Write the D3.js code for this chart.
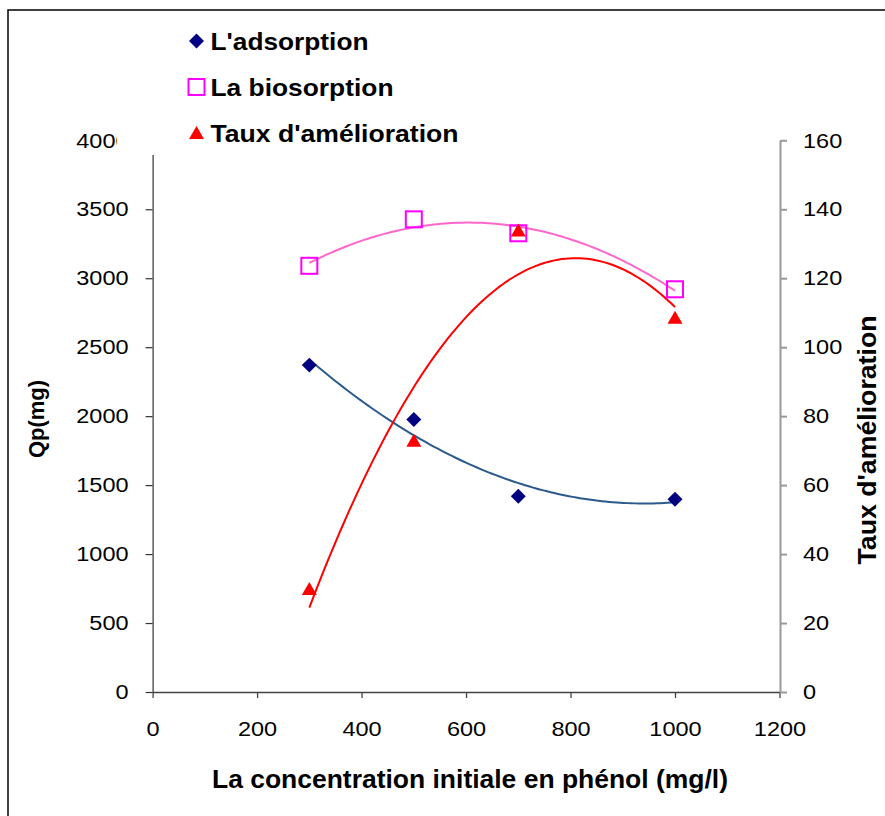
<!DOCTYPE html>
<html><head><meta charset="utf-8">
<script src="https://cdn.jsdelivr.net/npm/d3@7"></script>
<style>body{margin:0;background:#fff}</style>
</head><body><svg id="c" width="885" height="816"></svg>
<script>
// ---- data ----
const concentrations = [300, 500, 700, 1000];
const adsorption = [2370, 1975, 1420, 1397];
const biosorption = [3090, 3427, 3326, 2920];
const tauxAmelioration = [30, 73, 134, 108.7];
const xTicks = [0, 200, 400, 600, 800, 1000, 1200];
const yLeftTicks = [0, 500, 1000, 1500, 2000, 2500, 3000, 3500, 4000];
const yRightTicks = [0, 20, 40, 60, 80, 100, 120, 140, 160];
const legendLabels = ["L'adsorption", "La biosorption", "Taux d'amélioration"];
const xTitle = "La concentration initiale en phénol (mg/l)";
const yLeftTitle = "Qp(mg)";
const yRightTitle = "Taux d'amélioration";

// ---- setup ----
const FONT = "Arial, 'Liberation Sans', sans-serif";
const TICK_SX = 1.12;
const svg = d3.select("#c");
const x = d3.scaleLinear().domain([0, 1200]).range([152.6, 779.5]);
const yL = d3.scaleLinear().domain([0, 4000]).range([692, 140.3]);
const yR = d3.scaleLinear().domain([0, 160]).range([692, 140.3]);

// outer frame
svg.append("rect").attr("x", 8).attr("y", 10).attr("width", 900).attr("height", 840)
  .attr("fill", "none").attr("stroke", "#000").attr("stroke-width", 1.5);

function styleTicks(g, color, width) {
  g.selectAll("path.domain").attr("stroke", color).attr("stroke-width", width);
  g.selectAll(".tick line").attr("stroke", color).attr("stroke-width", width);
  g.selectAll(".tick text").attr("font-family", FONT).attr("font-size", 21).attr("fill", "#000");
}

// bottom axis
const gx = svg.append("g").attr("transform", `translate(0,${yL(0)})`)
  .call(d3.axisBottom(x).tickValues(xTicks).tickFormat(d3.format("d")).tickSize(6).tickSizeOuter(0).tickPadding(23));
styleTicks(gx, "#444", 1.3);
gx.selectAll(".tick text").attr("transform", `scale(${TICK_SX},1)`);

// left axis
const gl = svg.append("g").attr("transform", `translate(${x(0)},0)`)
  .call(d3.axisLeft(yL).tickValues(yLeftTicks).tickFormat(d3.format("d")).tickSize(7).tickSizeOuter(0).tickPadding(17));
styleTicks(gl, "#333", 1.2);
gl.selectAll(".tick text").each(function () {
  const t = d3.select(this); const ox = +t.attr("x");
  t.attr("x", ox / TICK_SX).attr("transform", `scale(${TICK_SX},1)`);
});

// right axis
const gr = svg.append("g").attr("transform", `translate(${x(1200) + 0.5},0)`)
  .call(d3.axisRight(yR).tickValues(yRightTicks).tickFormat(d3.format("d")).tickSize(7).tickSizeOuter(0).tickPadding(16));
styleTicks(gr, "#999", 2);
gr.selectAll(".tick text").each(function () {
  const t = d3.select(this); const ox = +t.attr("x");
  t.attr("x", ox / TICK_SX).attr("transform", `scale(${TICK_SX},1)`);
});

// ---- quadratic least-squares trendlines ----
function polyfit2(xs, ys) {
  const n = xs.length;
  let S = [0, 0, 0, 0, 0], T = [0, 0, 0];
  for (let i = 0; i < n; i++) {
    for (let k = 0; k < 5; k++) S[k] += Math.pow(xs[i], k);
    for (let k = 0; k < 3; k++) T[k] += ys[i] * Math.pow(xs[i], k);
  }
  const A = [[S[0], S[1], S[2], T[0]], [S[1], S[2], S[3], T[1]], [S[2], S[3], S[4], T[2]]];
  for (let i = 0; i < 3; i++) {
    let p = i; for (let r = i + 1; r < 3; r++) if (Math.abs(A[r][i]) > Math.abs(A[p][i])) p = r;
    [A[i], A[p]] = [A[p], A[i]];
    for (let r = 0; r < 3; r++) if (r !== i) {
      const f = A[r][i] / A[i][i];
      for (let c = i; c < 4; c++) A[r][c] -= f * A[i][c];
    }
  }
  const c = [A[0][3] / A[0][0], A[1][3] / A[1][1], A[2][3] / A[2][2]];
  return v => c[0] + c[1] * v + c[2] * v * v;
}
const xmin = d3.min(concentrations), xmax = d3.max(concentrations);
const samples = d3.range(0, 101).map(i => xmin + (xmax - xmin) * i / 100);
function trend(ys, yScale, color) {
  const f = polyfit2(concentrations, ys);
  svg.append("path").datum(samples)
    .attr("d", d3.line().x(d => x(d)).y(d => yScale(f(d))))
    .attr("fill", "none").attr("stroke", color).attr("stroke-width", 2);
}
trend(adsorption, yL, "#2B5A8C");
trend(biosorption, yL, "#FF66CC");
trend(tauxAmelioration, yR, "#FF0000");

// ---- markers ----
const diamond = d3.symbol(d3.symbolSquare, 112);
const triSize = 97;
const tri = d3.symbol(d3.symbolTriangle, triSize);
const triH = Math.sqrt(triSize * 4 / Math.sqrt(3)) * Math.sqrt(3) / 2;

svg.append("g").selectAll("path").data(concentrations).join("path")
  .attr("d", diamond())
  .attr("transform", (d, i) => `translate(${x(d)},${yL(adsorption[i])}) rotate(45)`)
  .attr("fill", "#000080");
svg.append("g").selectAll("rect").data(concentrations).join("rect")
  .attr("x", d => x(d) - 8).attr("y", (d, i) => yL(biosorption[i]) - 8)
  .attr("width", 16).attr("height", 16)
  .attr("fill", "none").attr("stroke", "#FF00FF").attr("stroke-width", 2);
svg.append("g").selectAll("path").data(concentrations).join("path")
  .attr("d", tri())
  .attr("transform", (d, i) => `translate(${x(d)},${yR(tauxAmelioration[i]) + triH / 6})`)
  .attr("fill", "#FF0000");

// ---- legend ----
const lg = svg.append("g");
lg.append("rect").attr("x", 117).attr("y", 14).attr("width", 360).attr("height", 141).attr("fill", "#fff");
const legendRows = [41, 87, 132.5];
const legendWidths = [158, 183, 248];
lg.append("path").attr("d", diamond()).attr("transform", `translate(196.5,${legendRows[0]}) rotate(45)`).attr("fill", "#000080");
lg.append("rect").attr("x", 188.5).attr("y", legendRows[1] - 8).attr("width", 16).attr("height", 16)
  .attr("fill", "none").attr("stroke", "#FF00FF").attr("stroke-width", 2);
lg.append("path").attr("d", tri()).attr("transform", `translate(196.5,${legendRows[2] + triH / 6})`).attr("fill", "#FF0000");
legendLabels.forEach((t, i) => {
  lg.append("text").attr("x", 210.5).attr("y", legendRows[i] + 9)
    .attr("font-family", FONT).attr("font-size", 24).attr("font-weight", "bold")
    .attr("textLength", legendWidths[i]).attr("lengthAdjust", "spacingAndGlyphs")
    .text(t);
});

// ---- axis titles ----
svg.append("text").attr("x", 470).attr("y", 787.5).attr("text-anchor", "middle")
  .attr("font-family", FONT).attr("font-size", 25).attr("font-weight", "bold")
  .attr("textLength", 516).attr("lengthAdjust", "spacingAndGlyphs").text(xTitle);
svg.append("text").attr("transform", "translate(44,419) rotate(-90)").attr("text-anchor", "middle")
  .attr("font-family", FONT).attr("font-size", 22).attr("font-weight", "bold")
  .text(yLeftTitle);
svg.append("text").attr("transform", "translate(876,440) rotate(-90)").attr("text-anchor", "middle")
  .attr("font-family", FONT).attr("font-size", 25).attr("font-weight", "bold")
  .attr("textLength", 249).attr("lengthAdjust", "spacingAndGlyphs").text(yRightTitle);
</script></body></html>
